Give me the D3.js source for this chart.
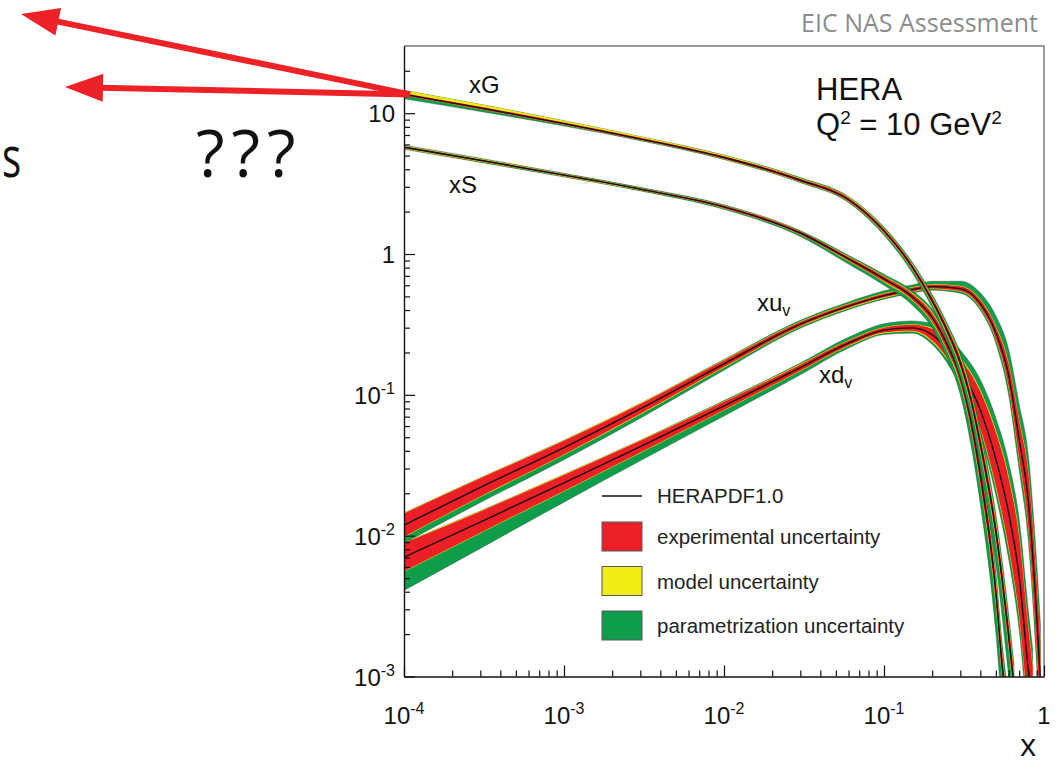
<!DOCTYPE html>
<meta charset="utf-8">
<title>HERAPDF1.0 at Q2 = 10 GeV2</title>
<style>
html, body {
    margin: 0;
    background: #fff;
}
svg {
    display: block;
    font-family: "Liberation Sans", Arial, sans-serif;
}
.slide {
    font-family: "Open Sans", sans-serif;
}
</style>
<body>
<script src="https://cdn.jsdelivr.net/npm/d3@7"></script>
<script>
// values (Q^2 = 10 GeV^2)
var gluonX = [1e-4, 3e-4, 1e-3, 3e-3, 0.01, 0.03, 0.06, 0.1, 0.15, 0.2, 0.25, 0.3, 0.35, 0.4, 0.5, 0.6, 0.65];
var gluonC = [13.6, 10.9, 8.43, 6.57, 4.85, 3.34, 2.44, 1.46, 0.811, 0.467, 0.281, 0.169, 0.0921, 0.0448, 0.0108, 0.0020, 0.00085];
var seaX = [1e-4, 3e-4, 1e-3, 3e-3, 0.01, 0.03, 0.06, 0.1, 0.15, 0.2, 0.25, 0.3, 0.35, 0.4, 0.5, 0.55, 0.6];
var seaC = [5.73, 4.63, 3.63, 2.89, 2.16, 1.41, 0.924, 0.665, 0.498, 0.355, 0.223, 0.134, 0.0643, 0.027, 0.0040, 0.00114, 0.00049];
var uvX = [1e-4, 3e-4, 1e-3, 3e-3, 0.01, 0.03, 0.06, 0.1, 0.15, 0.2, 0.3, 0.4, 0.5, 0.6, 0.7, 0.8, 0.9, 0.95];
var uvC = [0.0119, 0.0220, 0.0422, 0.0795, 0.166, 0.318, 0.427, 0.507, 0.559, 0.587, 0.568, 0.444, 0.276, 0.139, 0.0478, 0.0173, 0.0027, 0.00094];
var dvX = [1e-4, 3e-4, 1e-3, 3e-3, 0.01, 0.03, 0.06, 0.1, 0.15, 0.2, 0.3, 0.4, 0.5, 0.6, 0.7, 0.8, 0.85];
var dvC = [0.00703, 0.0125, 0.0237, 0.0429, 0.0835, 0.156, 0.233, 0.288, 0.299, 0.267, 0.151, 0.0782, 0.035, 0.0147, 0.0051, 0.00107, 0.00057];

// relative uncertainties (up: c*(1+u), down: c/(1+u)):
// [experimental, model up, model down, param up, param down]
var gluonErr = [
    [0.02, 0.05, 0, 0, 0.055], [0.02, 0.04, 0, 0, 0.04], [0.02, 0.03, 0, 0, 0.02], [0.02, 0.02, 0, 0, 0.01],
    [0.02, 0.015, 0.005, 0.005, 0.01], [0.025, 0.01, 0.005, 0.01, 0.01], [0.03, 0.01, 0.005, 0.01, 0.015],
    [0.035, 0.01, 0.01, 0.02, 0.03], [0.04, 0.01, 0.01, 0.03, 0.05], [0.05, 0.015, 0.015, 0.04, 0.06],
    [0.06, 0.02, 0.02, 0.05, 0.1], [0.08, 0.03, 0.03, 0.06, 0.15], [0.1, 0.03, 0.03, 0.08, 0.22],
    [0.12, 0.04, 0.04, 0.1, 0.3], [0.15, 0.05, 0.05, 0.12, 0.5], [0.2, 0.06, 0.06, 0.15, 0.7],
    [0.22, 0.06, 0.06, 0.15, 0.75]
];
var seaErr = [
    [0.015, 0.01, 0.01, 0.01, 0.01], [0.015, 0.01, 0.01, 0.01, 0.01], [0.015, 0.005, 0.005, 0.01, 0.01],
    [0.015, 0.005, 0.005, 0.01, 0.01], [0.02, 0.005, 0.005, 0.01, 0.015], [0.025, 0.005, 0.005, 0.01, 0.03],
    [0.03, 0.01, 0.01, 0.02, 0.05], [0.04, 0.01, 0.01, 0.03, 0.06], [0.05, 0.015, 0.015, 0.04, 0.08],
    [0.07, 0.02, 0.02, 0.05, 0.1], [0.09, 0.02, 0.02, 0.06, 0.14], [0.11, 0.03, 0.03, 0.08, 0.2],
    [0.14, 0.03, 0.03, 0.1, 0.3], [0.17, 0.04, 0.04, 0.12, 0.4], [0.2, 0.05, 0.05, 0.15, 0.7],
    [0.22, 0.05, 0.05, 0.18, 0.8], [0.25, 0.05, 0.05, 0.2, 0.9]
];
var uvErr = [
    [0.21, 0.01, 0.01, 0, 0.125], [0.16, 0.01, 0.01, 0, 0.11], [0.12, 0.01, 0.01, 0, 0.09],
    [0.085, 0.01, 0.01, 0, 0.07], [0.055, 0.01, 0.01, 0.01, 0.045], [0.035, 0.01, 0.01, 0.02, 0.025],
    [0.03, 0.01, 0.01, 0.03, 0.02], [0.03, 0.01, 0.01, 0.04, 0.02], [0.03, 0.01, 0.01, 0.04, 0.02],
    [0.03, 0.01, 0.01, 0.05, 0.02], [0.04, 0.01, 0.01, 0.08, 0.03], [0.06, 0.015, 0.015, 0.12, 0.04],
    [0.1, 0.02, 0.02, 0.2, 0.07], [0.2, 0.03, 0.03, 0.3, 0.15], [0.35, 0.04, 0.04, 0.4, 0.25],
    [0.55, 0.05, 0.05, 0.5, 0.35], [0.75, 0.06, 0.06, 0.6, 0.45], [0.85, 0.06, 0.06, 0.6, 0.5]
];
var dvErr = [
    [0.26, 0.01, 0.01, 0, 0.45], [0.19, 0.01, 0.01, 0, 0.34], [0.14, 0.01, 0.01, 0, 0.22],
    [0.1, 0.01, 0.01, 0, 0.15], [0.07, 0.01, 0.01, 0.01, 0.1], [0.05, 0.01, 0.01, 0.02, 0.065],
    [0.04, 0.01, 0.01, 0.05, 0.035], [0.04, 0.01, 0.01, 0.06, 0.025], [0.05, 0.01, 0.01, 0.06, 0.03],
    [0.1, 0.02, 0.02, 0.08, 0.05], [0.2, 0.03, 0.03, 0.15, 0.08], [0.35, 0.04, 0.04, 0.25, 0.12],
    [0.55, 0.06, 0.06, 0.35, 0.2], [0.75, 0.08, 0.08, 0.45, 0.3], [0.9, 0.1, 0.1, 0.55, 0.4],
    [1.0, 0.1, 0.1, 0.6, 0.5], [1.05, 0.1, 0.1, 0.6, 0.5]
];

var xMajor = [1e-4, 1e-3, 1e-2, 1e-1, 1],
    xTickBase = ["10", "10", "10", "10", "1"],
    xTickExp = ["-4", "-3", "-2", "-1", ""];
var yMajor = [1e-3, 1e-2, 1e-1, 1, 10],
    yTickBase = ["10", "10", "10", "1", "10"],
    yTickExp = ["-3", "-2", "-1", "", ""];

var legendLabels = ["experimental uncertainty", "model uncertainty", "parametrization uncertainty"];

var width = 1064,
    height = 764,
    plotLeft = 404,
    plotRight = 1044,
    plotTop = 46,
    plotBottom = 676.5;

var colors = { exp: "#ec1f27", mod: "#f1ec14", par: "#0e9e4b" };

var x = d3.scaleLog().domain([1e-4, 1]).range([plotLeft, plotRight]);
var y = d3.scaleLog().domain([1e-3, 30]).range([plotBottom, plotTop]);

var svg = d3.select("body").append("svg")
    .attr("width", width)
    .attr("height", height);

svg.append("clipPath").attr("id", "plot")
  .append("rect")
    .attr("x", plotLeft)
    .attr("y", plotTop)
    .attr("width", plotRight - plotLeft)
    .attr("height", plotBottom - plotTop);

function rows(xs, cs, errs) {
    return xs.map(function(v, i) {
        var e = errs[i];
        return { x: v, c: cs[i], e: e[0], mu: e[1], md: e[2], pu: e[3], pd: e[4] };
    });
}

function band(lo, hi) {
    return d3.area()
        .curve(d3.curveMonotoneX)
        .x(function(d) { return x(d.x); })
        .y0(function(d) { return y(d.c / (1 + lo(d))); })
        .y1(function(d) { return y(d.c * (1 + hi(d))); });
}

var parBand = band(function(d) { return d.e + d.md + d.pd; }, function(d) { return d.e + d.mu + d.pu; }),
    modBand = band(function(d) { return d.e + d.md; }, function(d) { return d.e + d.mu; }),
    expBand = band(function(d) { return d.e; }, function(d) { return d.e; }),
    central = d3.line()
        .curve(d3.curveMonotoneX)
        .x(function(d) { return x(d.x); })
        .y(function(d) { return y(d.c); });

var pdfs = [
    rows(dvX, dvC, dvErr),
    rows(uvX, uvC, uvErr),
    rows(seaX, seaC, seaErr),
    rows(gluonX, gluonC, gluonErr)
];

var plot = svg.append("g").attr("clip-path", "url(#plot)");

pdfs.forEach(function(data) {
    var g = plot.append("g").datum(data);
    g.append("path").attr("d", parBand).attr("fill", colors.par)
        .attr("stroke", "#2b3a22").attr("stroke-width", 0.6).attr("stroke-opacity", 0.6);
    g.append("path").attr("d", modBand).attr("fill", colors.mod);
    g.append("path").attr("d", expBand).attr("fill", colors.exp);
    g.append("path").attr("d", central).attr("fill", "none")
        .attr("stroke", "#111").attr("stroke-width", 1.4);
});

// frame
svg.append("path")
    .attr("d", "M" + plotLeft + "," + plotTop + "H" + plotRight + "V" + plotBottom)
    .attr("fill", "none")
    .attr("stroke", "#7a7a7a")
    .attr("stroke-width", 1.5);

// axes: minor ticks then major ticks, all pointing inward
function styleAxis(g) {
    g.selectAll("path, line").attr("stroke", "#111").attr("stroke-width", 1.2);
}

svg.append("g")
    .attr("transform", "translate(0," + plotBottom + ")")
    .call(d3.axisBottom(x).tickValues(x.ticks().filter(function(v) { return xMajor.indexOf(v) < 0; }))
        .tickSize(-6).tickSizeOuter(0).tickFormat(""))
    .call(styleAxis);
svg.append("g")
    .attr("transform", "translate(0," + plotBottom + ")")
    .call(d3.axisBottom(x).tickValues(xMajor).tickSize(-11).tickSizeOuter(0).tickFormat(""))
    .call(styleAxis);
svg.append("g")
    .attr("transform", "translate(" + plotLeft + ",0)")
    .call(d3.axisLeft(y).tickValues(y.ticks().filter(function(v) { return yMajor.indexOf(v) < 0 && v < 29; }))
        .tickSize(-6).tickSizeOuter(0).tickFormat(""))
    .call(styleAxis);
svg.append("g")
    .attr("transform", "translate(" + plotLeft + ",0)")
    .call(d3.axisLeft(y).tickValues(yMajor).tickSize(-11).tickSizeOuter(0).tickFormat(""))
    .call(styleAxis);

// tick labels with superscripts
var xl = svg.append("g").selectAll("text")
    .data(xMajor)
    .enter().append("text")
    .attr("x", function(d) { return x(d); })
    .attr("y", 724)
    .attr("text-anchor", "middle")
    .attr("font-size", 24)
    .attr("fill", "#111");
xl.append("tspan").text(function(d, i) { return xTickBase[i]; });
xl.append("tspan").attr("dy", -10).attr("font-size", 16).text(function(d, i) { return xTickExp[i]; });

var yl = svg.append("g").selectAll("text")
    .data(yMajor)
    .enter().append("text")
    .attr("x", 395)
    .attr("y", function(d) { return y(d) + 9; })
    .attr("text-anchor", "end")
    .attr("font-size", 24)
    .attr("fill", "#111");
yl.append("tspan").text(function(d, i) { return yTickBase[i]; });
yl.append("tspan").attr("dy", -10).attr("font-size", 16).text(function(d, i) { return yTickExp[i]; });

// curve names
var names = svg.append("g").attr("font-size", 24).attr("fill", "#111");
names.append("text").attr("x", 469).attr("y", 93).text("xG");
names.append("text").attr("x", 449).attr("y", 193).text("xS");
var uvt = names.append("text").attr("x", 757).attr("y", 311);
uvt.append("tspan").text("xu");
uvt.append("tspan").attr("dy", 5).attr("font-size", 16).text("v");
var dvt = names.append("text").attr("x", 819).attr("y", 383);
dvt.append("tspan").text("xd");
dvt.append("tspan").attr("dy", 5).attr("font-size", 16).text("v");

var title = svg.append("g").attr("font-size", 31).attr("fill", "#111");
title.append("text").attr("x", 816).attr("y", 100).text("HERA");
var q = title.append("text").attr("x", 816).attr("y", 135);
q.append("tspan").text("Q");
q.append("tspan").attr("dy", -11).attr("font-size", 19).text("2");
q.append("tspan").attr("dy", 11).text(" = 10 GeV");
q.append("tspan").attr("dy", -11).attr("font-size", 19).text("2");

// legend
var legend = svg.append("g").attr("font-size", 20.5).attr("fill", "#222");
legend.append("line")
    .attr("x1", 602).attr("x2", 642).attr("y1", 496).attr("y2", 496)
    .attr("stroke", "#111").attr("stroke-width", 1.5);
legend.append("text").attr("x", 657).attr("y", 503).text("HERAPDF1.0");
var items = legend.selectAll("g.item")
    .data([colors.exp, colors.mod, colors.par])
    .enter().append("g")
    .attr("transform", function(d, i) { return "translate(602," + (522 + i * 44.5) + ")"; });
items.append("rect")
    .attr("width", 40).attr("height", 29)
    .attr("fill", function(d) { return d; })
    .attr("stroke", "#5a5a5a").attr("stroke-width", 1);
items.append("text")
    .attr("x", 55).attr("y", 22)
    .text(function(d, i) { return legendLabels[i]; });

// slide annotations
function arrow(x0, y0, x1, y1) {
    var dx = x1 - x0, dy = y1 - y0,
        len = Math.sqrt(dx * dx + dy * dy),
        ux = dx / len, uy = dy / len,
        hl = 38, hw = 14,
        bx = x1 - ux * hl, by = y1 - uy * hl;
    svg.append("line")
        .attr("x1", x0).attr("y1", y0)
        .attr("x2", bx + ux * 4).attr("y2", by + uy * 4)
        .attr("stroke", "#ec2227").attr("stroke-width", 6);
    svg.append("path")
        .attr("d", "M" + x1 + "," + y1 + "L" + (bx - uy * hw) + "," + (by + ux * hw) +
            "L" + (bx + uy * hw) + "," + (by - ux * hw) + "Z")
        .attr("fill", "#ec2227");
}
var ax = x(gluonX[0]) + 6, ay = y(gluonC[0]);
arrow(ax, ay, 21, 14);
arrow(ax, ay, 65, 87);

svg.append("text").attr("class", "slide")
    .attr("transform", "translate(2,177) scale(0.72,1)")
    .attr("font-size", 56).attr("fill", "#111").text("s");
svg.append("text").attr("class", "slide")
    .attr("x", 196).attr("y", 177).attr("font-size", 66)
    .attr("letter-spacing", 7).attr("fill", "#111").text("???");
svg.append("text").attr("class", "slide")
    .attr("x", 1020).attr("y", 756).attr("font-size", 31).attr("fill", "#111").text("x");
svg.append("text").attr("class", "slide")
    .attr("x", 1038).attr("y", 32).attr("text-anchor", "end")
    .attr("font-size", 25).attr("fill", "#8c8c8c").text("EIC NAS Assessment");
</script>
